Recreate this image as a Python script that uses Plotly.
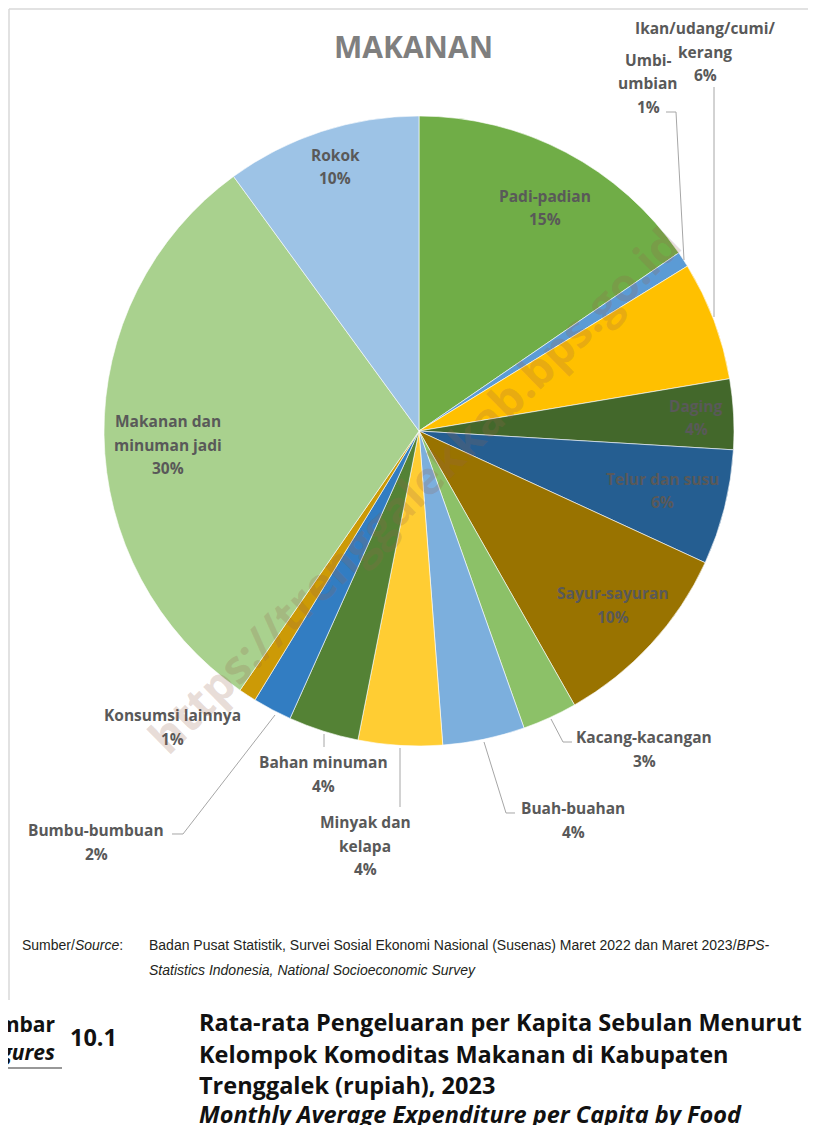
import plotly.graph_objects as go

# page body keeps an 8px margin, so the figure is drawn 16px smaller
OX, OY = 8, 8
W, H = 800, 1117

# --- data (share of monthly food expenditure) ---
categories = [
    "Padi-padian", "Umbi-umbian", "Ikan/udang/cumi/kerang", "Daging",
    "Telur dan susu", "Sayur-sayuran", "Kacang-kacangan", "Buah-buahan",
    "Minyak dan kelapa", "Bahan minuman", "Bumbu-bumbuan", "Konsumsi lainnya",
    "Makanan dan minuman jadi", "Rokok",
]
values = [15.4, 0.8, 6.1, 3.6, 5.9, 9.9, 2.8, 4.2, 4.3, 3.6, 2.0, 0.9, 30.3, 10.0]
colors = [
    "#70AD47", "#5B9BD5", "#FFC000", "#43682B", "#255E91", "#997300",
    "#8CC168", "#7CAFDD", "#FFCD33", "#548235", "#327DC2", "#CC9A06",
    "#A9D18E", "#9DC3E6",
]

# label text as broken in the original, plus label centre (page px) per category
label_lines = [
    ["Padi-padian"], ["Umbi-", "umbian"], ["Ikan/udang/cumi/", "kerang"], ["Daging"],
    ["Telur dan susu"], ["Sayur-sayuran"], ["Kacang-kacangan"], ["Buah-buahan"],
    ["Minyak dan", "kelapa"], ["Bahan minuman"], ["Bumbu-bumbuan"], ["Konsumsi lainnya"],
    ["Makanan dan", "minuman jadi"], ["Rokok"],
]
label_pos = [
    (545, 196), (648, 60), (705, 28), (696, 406), (662, 479), (613, 593),
    (644, 737), (573, 808), (365, 822), (323, 762), (96, 830), (172, 715),
    (168, 421), (335, 155),
]
leaders = [
    [(666, 112), (676, 112), (684, 260)],
    [(714, 87), (714, 317)],
    [(551, 719), (563, 742), (572, 742)],
    [(484, 742), (506, 813), (515, 813)],
    [(400, 748), (400, 807)],
    [(324, 734), (324, 747)],
    [(275, 715), (183, 834), (172, 834)],
]


def px(x, y):
    return (x - OX) / W, 1 - (y - OY) / H


total = sum(values)
cx, cy, r = 419, 431, 315
x0, y1 = px(cx - r, cy - r)
x1, y0 = px(cx + r, cy + r)

fig = go.Figure(go.Pie(
    labels=categories,
    values=values,
    sort=False,
    direction="clockwise",
    rotation=0,
    textinfo="none",
    hoverinfo="label+percent",
    marker=dict(colors=colors, line=dict(color="#FFFFFF", width=0.6)),
    domain=dict(x=[x0, x1], y=[y0, y1]),
    showlegend=False,
))

annotations = []
label_font = dict(family="Open Sans, sans-serif", size=15.5, color="#595959")

for lines, val, (lx, ly) in zip(label_lines, values, label_pos):
    pct = f"{round(val / total * 100)}%"
    for i, t in enumerate(lines + [pct]):
        ax, ay = px(lx, ly + i * 23.5)
        annotations.append(dict(
            x=ax, y=ay, xref="paper", yref="paper", text=f"<b>{t}</b>",
            showarrow=False, xanchor="center", yanchor="middle", font=label_font,
        ))

# chart title
tx, ty = px(414, 46)
annotations.append(dict(
    x=tx, y=ty, xref="paper", yref="paper", text="<b>MAKANAN</b>", showarrow=False,
    xanchor="center", yanchor="middle",
    font=dict(family="Open Sans, sans-serif", size=30, color="#7F7F7F"),
))

# watermark
wx, wy = px(414, 489)
annotations.append(dict(
    x=wx, y=wy, xref="paper", yref="paper", text="<b>https://trenggalekkab.bps.go.id</b>",
    showarrow=False, textangle=-44.6, xanchor="center", yanchor="middle",
    font=dict(family="Open Sans, sans-serif", size=46, color="rgba(150,100,80,0.22)"),
))

# source note
src = [
    (20, 945, "Sumber/<i>Source</i>:"),
    (147, 945, "Badan Pusat Statistik, Survei Sosial Ekonomi Nasional (Susenas) "
               "Maret 2022 dan Maret 2023/<i>BPS-</i>"),
    (147, 970, "<i>Statistics Indonesia, National Socioeconomic Survey</i>"),
]
for sx, sy, t in src:
    ax, ay = px(sx, sy)
    annotations.append(dict(
        x=ax, y=ay, xref="paper", yref="paper", text=t, showarrow=False,
        xanchor="left", yanchor="middle",
        font=dict(family="Liberation Sans, sans-serif", size=14, color="#231F20"),
    ))

# figure caption
caption = [
    (57, 1024, "right", 21, "<b>Gambar</b>"),
    (57, 1052, "right", 21, "<b><i>Figures</i></b>"),
    (93, 1037, "center", 23.5, "<b>10.1</b>"),
    (197, 1022, "left", 23.5, "<b>Rata-rata Pengeluaran per Kapita Sebulan Menurut</b>"),
    (197, 1054, "left", 23.5, "<b>Kelompok Komoditas Makanan di Kabupaten</b>"),
    (197, 1085, "left", 23.5, "<b>Trenggalek (rupiah), 2023</b>"),
    (197, 1114, "left", 23.5, "<b><i>Monthly Average Expenditure per Capita by Food</i></b>"),
]
for sx, sy, anchor, size, t in caption:
    ax, ay = px(sx, sy)
    annotations.append(dict(
        x=ax, y=ay, xref="paper", yref="paper", text=t, showarrow=False,
        xanchor=anchor, yanchor="middle",
        font=dict(family="Open Sans, sans-serif", size=size, color="#111111"),
    ))

shapes = []
for pts in leaders:
    path = " ".join(
        ("M" if i == 0 else "L") + f"{px(x, y)[0]:.5f},{px(x, y)[1]:.5f}"
        for i, (x, y) in enumerate(pts)
    )
    shapes.append(dict(type="path", xref="paper", yref="paper", path=path,
                       line=dict(color="#A6A6A6", width=1)))

# chart frame (top + left edge visible) and caption underline
for (ax0, ay0), (ax1, ay1) in [((9, 9), (816, 9)), ((9, 9), (9, 1000))]:
    p0, p1 = px(ax0, ay0), px(ax1, ay1)
    shapes.append(dict(type="line", xref="paper", yref="paper",
                       x0=p0[0], y0=p0[1], x1=p1[0], y1=p1[1],
                       line=dict(color="#D9D9D9", width=1.5)))
u0, u1 = px(0, 1068), px(62, 1068)
shapes.append(dict(type="line", xref="paper", yref="paper",
                   x0=u0[0], y0=u0[1], x1=u1[0], y1=u1[1],
                   line=dict(color="#333333", width=1.2)))

fig.update_layout(
    width=W,
    height=H,
    margin=dict(l=0, r=0, t=0, b=0),
    paper_bgcolor="#FFFFFF",
    plot_bgcolor="#FFFFFF",
    annotations=annotations,
    shapes=shapes,
)

fig.write_html("out.html")
